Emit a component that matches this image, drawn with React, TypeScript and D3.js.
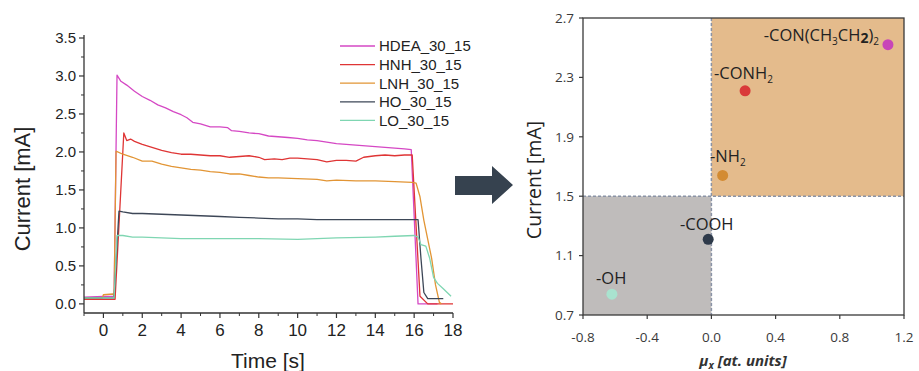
import React from 'react';
import * as d3 from 'd3';

// left chart: current transients, [time s, current mA]
const hdea: [number, number][] = [
  [-1, 0.09], [0, 0.1], [0.55, 0.1], [0.7, 3.01], [0.9, 2.93], [1.2, 2.88], [1.6, 2.8], [2, 2.73],
  [2.4, 2.68], [2.8, 2.62], [3.2, 2.58], [3.6, 2.53], [4, 2.49], [4.3, 2.45], [4.6, 2.39], [5, 2.37],
  [5.5, 2.33], [6, 2.33], [6.4, 2.32], [6.6, 2.28], [7, 2.27], [7.5, 2.25], [8, 2.24], [8.5, 2.21],
  [9, 2.2], [9.5, 2.19], [10, 2.18], [10.5, 2.16], [11, 2.15], [11.5, 2.13], [12, 2.11], [12.5, 2.1],
  [13, 2.09], [13.5, 2.08], [14, 2.07], [14.5, 2.06], [15, 2.05], [15.5, 2.04], [15.85, 2.03],
  [16.2, 0], [17.2, 0],
];
const hnh: [number, number][] = [
  [-1, 0.06], [0, 0.06], [0.6, 0.06], [1.05, 2.25], [1.2, 2.15], [1.4, 2.17], [1.6, 2.14], [2, 2.1],
  [2.5, 2.06], [3, 2.02], [3.5, 1.99], [4, 1.97], [4.5, 1.97], [5, 1.96], [5.5, 1.95], [6, 1.95],
  [6.5, 1.93], [7, 1.94], [7.5, 1.95], [8, 1.93], [8.3, 1.9], [8.8, 1.91], [9.2, 1.9], [9.6, 1.92],
  [10, 1.92], [10.5, 1.91], [11, 1.9], [11.5, 1.87], [12, 1.89], [12.5, 1.89], [13, 1.88],
  [13.4, 1.93], [14, 1.95], [14.5, 1.96], [15, 1.95], [15.5, 1.96], [15.9, 1.96], [16.3, 0.1],
  [16.7, 0], [18, 0],
];
const lnh: [number, number][] = [
  [-1, 0.08], [-0.05, 0.08], [0, 0.12], [0.5, 0.13], [0.55, 0.1], [0.65, 2.01], [1, 1.97],
  [1.5, 1.93], [2, 1.88], [2.5, 1.88], [3, 1.84], [3.5, 1.81], [4, 1.79], [4.5, 1.77], [5, 1.76],
  [5.5, 1.74], [6, 1.73], [6.5, 1.71], [7, 1.71], [7.5, 1.69], [8, 1.67], [8.5, 1.66], [9, 1.66],
  [10, 1.65], [11, 1.64], [11.5, 1.62], [12, 1.63], [13, 1.62], [14, 1.62], [15, 1.61], [15.9, 1.6],
  [16.1, 1.59], [16.3, 1.41], [16.5, 1.1], [16.7, 0.85], [16.9, 0.6], [17.1, 0.25], [17.3, 0.02],
  [17.4, 0],
];
const ho: [number, number][] = [
  [-1, 0.08], [0.55, 0.08], [0.8, 1.22], [1, 1.21], [1.5, 1.19], [2, 1.19], [3, 1.18], [4, 1.17],
  [5, 1.16], [6, 1.15], [7, 1.14], [8, 1.13], [9, 1.12], [10, 1.12], [11, 1.11], [12, 1.11],
  [13, 1.11], [14, 1.11], [15, 1.11], [16.2, 1.11], [16.35, 0.6], [16.5, 0.15], [16.7, 0.07],
  [17.5, 0.07],
];
const lo: [number, number][] = [
  [-1, 0.08], [0.55, 0.08], [0.7, 0.9], [1, 0.9], [1.5, 0.88], [2, 0.88], [3, 0.87], [4, 0.86],
  [6, 0.86], [8, 0.86], [10, 0.85], [11, 0.86], [12, 0.87], [14, 0.88], [15, 0.89], [16, 0.9],
  [16.2, 0.88], [16.35, 0.78], [16.6, 0.76], [16.8, 0.6], [17, 0.35], [17.2, 0.27], [17.5, 0.2],
  [17.7, 0.15], [17.9, 0.1],
];

const seriesNames = ['HDEA_30_15', 'HNH_30_15', 'LNH_30_15', 'HO_30_15', 'LO_30_15'];
const seriesData = [hdea, hnh, lnh, ho, lo];
const seriesColors = ['#d548c4', '#df3535', '#e29535', '#3d4757', '#7fd6b2'];

const leftXTicks = [0, 2, 4, 6, 8, 10, 12, 14, 16, 18];
const leftYTicks = [0, 0.5, 1, 1.5, 2, 2.5, 3, 3.5];

// right chart: dipole component vs current
const groupLabels = ['-CON(CH3CH2)2', '-CONH2', '-NH2', '-COOH', '-OH'];
const groupMu = [1.1, 0.21, 0.07, -0.02, -0.62];
const groupCurrent = [2.52, 2.21, 1.64, 1.21, 0.84];
const groupColors = ['#c845b8', '#d93a3a', '#d38b32', '#2e3a4a', '#a9e3cf'];

const rightXTicks = [-0.8, -0.4, 0, 0.4, 0.8, 1.2];
const rightYTicks = [0.7, 1.1, 1.5, 1.9, 2.3, 2.7];

const App = () => {
  const x = d3.scaleLinear().domain([-1, 18]).range([84, 453]);
  const y = d3.scaleLinear().domain([-0.12, 3.5]).range([313, 38]);
  const line = d3.line<[number, number]>().x(d => x(d[0])).y(d => y(d[1]));

  const xr = d3.scaleLinear().domain([-0.8, 1.2]).range([583, 904]);
  const yr = d3.scaleLinear().domain([0.7, 2.7]).range([315, 18]);

  const leftFont = '"Liberation Sans", Arial, sans-serif';
  const rightFont = '"Open Sans", "Noto Sans", sans-serif';
  const axisCol = '#333';

  const xMinor = d3.range(-1, 18, 2);
  const yMinor = d3.range(0.25, 3.5, 0.5);

  const sub = (t: string) => <tspan fontSize={10} dy={4}>{t}</tspan>;

  const labelNodes = [
    <text x={879} y={41} textAnchor="end">-CON(CH{sub('3')}<tspan dy={-4}>CH</tspan><tspan fontSize={14} fontWeight={700} dy={2}>2</tspan><tspan dy={-2}>)</tspan>{sub('2')}</text>,
    <text x={714} y={79}>-CONH{sub('2')}</text>,
    <text x={710} y={162}>-NH{sub('2')}</text>,
    <text x={680} y={230}>-COOH</text>,
    <text x={596} y={284}>-OH</text>,
  ];

  return (
    <svg width={919} height={371} style={{ position: 'absolute', left: 0, top: 0, background: '#fff' }}>
      {/* left chart */}
      <g fontFamily={leftFont}>
        {seriesData.map((s, i) => (
          <path key={seriesNames[i]} d={line(s) || ''} fill="none" stroke={seriesColors[i]} strokeWidth={1.3} strokeLinejoin="round" />
        ))}
        <line x1={84} x2={84} y1={y(3.5) - 3} y2={313} stroke={axisCol} strokeWidth={1.3} />
        <line x1={84} x2={453} y1={313} y2={313} stroke={axisCol} strokeWidth={1.3} />
        {leftYTicks.map(t => (
          <g key={t}>
            <line x1={79} x2={84} y1={y(t)} y2={y(t)} stroke={axisCol} strokeWidth={1.2} />
            <text x={76} y={y(t)} dy="0.36em" textAnchor="end" fontSize={15} fill="#222">{t.toFixed(1)}</text>
          </g>
        ))}
        {yMinor.map(t => (
          <line key={t} x1={81} x2={84} y1={y(t)} y2={y(t)} stroke={axisCol} strokeWidth={1} />
        ))}
        {leftXTicks.map(t => (
          <g key={t}>
            <line x1={x(t)} x2={x(t)} y1={313} y2={318} stroke={axisCol} strokeWidth={1.2} />
            <text x={x(t)} y={336} textAnchor="middle" fontSize={17} fill="#222">{t}</text>
          </g>
        ))}
        {xMinor.map(t => (
          <line key={t} x1={x(t)} x2={x(t)} y1={313} y2={316} stroke={axisCol} strokeWidth={1} />
        ))}
        <text x={268} y={368} textAnchor="middle" fontSize={21} fill="#222">Time [s]</text>
        <text transform="translate(30,189) rotate(-90)" textAnchor="middle" fontSize={22} fill="#222">Current [mA]</text>
        {seriesNames.map((n, i) => (
          <g key={n} transform={`translate(340,${46 + i * 18.6})`}>
            <line x1={0} x2={35} y1={0} y2={0} stroke={seriesColors[i]} strokeWidth={1.3} />
            <text x={39} y={0} dy="0.36em" fontSize={15} fill="#222">{n}</text>
          </g>
        ))}
      </g>

      {/* arrow */}
      <polygon points="455,176 492,176 492,166 513,185 492,204 492,195 455,195" fill="#36424f" />

      {/* right chart */}
      <g fontFamily={rightFont}>
        <rect x={xr(0)} y={yr(2.7)} width={xr(1.2) - xr(0)} height={yr(1.5) - yr(2.7)} fill="#e4bb8c" />
        <rect x={xr(-0.8)} y={yr(1.5)} width={xr(0) - xr(-0.8)} height={yr(0.7) - yr(1.5)} fill="#bfbcbb" />
        <line x1={xr(0)} x2={xr(0)} y1={yr(2.7)} y2={yr(0.7)} stroke="#8a93a6" strokeWidth={1.5} strokeDasharray="3,2" />
        <line x1={xr(-0.8)} x2={xr(1.2)} y1={yr(1.5)} y2={yr(1.5)} stroke="#8a93a6" strokeWidth={1.5} strokeDasharray="3,2" />
        <rect x={xr(-0.8)} y={yr(2.7)} width={xr(1.2) - xr(-0.8)} height={yr(0.7) - yr(2.7)} fill="none" stroke="#3a3a3a" strokeWidth={1.3} />
        {rightYTicks.map(t => (
          <g key={t}>
            <line x1={xr(-0.8) - 4} x2={xr(-0.8)} y1={yr(t)} y2={yr(t)} stroke="#3a3a3a" strokeWidth={1.2} />
            <text x={574} y={yr(t)} dy="0.36em" textAnchor="end" fontSize={13.5} fill="#3a3a3a">{t.toFixed(1)}</text>
          </g>
        ))}
        {rightXTicks.map(t => (
          <g key={t}>
            <line x1={xr(t)} x2={xr(t)} y1={yr(0.7)} y2={yr(0.7) + 4} stroke="#3a3a3a" strokeWidth={1.2} />
            <text x={xr(t)} y={342} textAnchor="middle" fontSize={13.5} fill="#3a3a3a">{t.toFixed(1)}</text>
          </g>
        ))}
        {groupLabels.map((g, i) => (
          <circle key={g} cx={xr(groupMu[i])} cy={yr(groupCurrent[i])} r={5.5} fill={groupColors[i]} />
        ))}
        <g fontSize={16.5} fill="#222">
          {labelNodes.map((n, i) => <React.Fragment key={groupLabels[i]}>{n}</React.Fragment>)}
        </g>
        <text transform="translate(541,180) rotate(-90)" textAnchor="middle" fontSize={19.5} fill="#222">Current [mA]</text>
        <text x={743} y={366} textAnchor="middle" fontSize={15} fontStyle="italic" fontWeight={700} fill="#333">
          μ<tspan fontSize={10} dy={3}>x</tspan><tspan dy={-3}> [at. units]</tspan>
        </text>
      </g>
    </svg>
  );
};

export default App;
